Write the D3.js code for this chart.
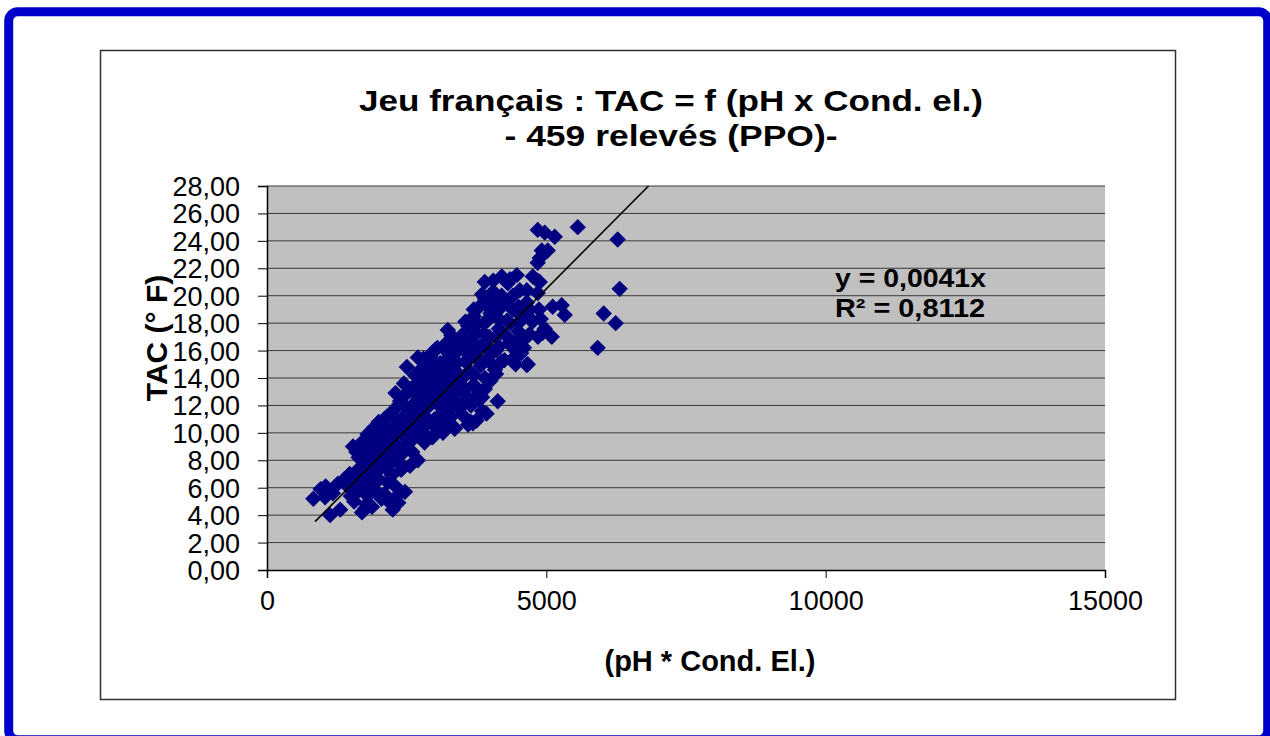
<!DOCTYPE html>
<html>
<head>
<meta charset="utf-8">
<script src="https://cdn.jsdelivr.net/npm/d3@7"></script>
<style>
  html, body { margin: 0; padding: 0; background: #fff; }
  svg { display: block; }
  text { font-family: "Liberation Sans", Arial, sans-serif; }
</style>
</head>
<body>
<svg id="chart" width="1270" height="736"></svg>
<script>
// ---- data ----
const titleLines = ["Jeu français : TAC = f (pH x Cond. el.)", "- 459 relevés (PPO)-"];
const xTicks = [0, 5000, 10000, 15000];
const yTicks = [0, 2, 4, 6, 8, 10, 12, 14, 16, 18, 20, 22, 24, 26, 28];
const trendSlope = 0.0041;
const trendRange = [860, 6829];
const legendLines = ["y = 0,0041x", "R² = 0,8112"];

const pointsLow = [
  [830,5.2],[960,5.9],[1050,6.1],[1130,4.0],[1180,5.6],[1040,5.3],[1310,4.4],[1380,6.6],
  [1420,6.2],[1480,7.0],[1500,5.4],[1560,5.0],[1580,6.6],[1620,5.7],[1650,7.4],[1700,4.2],
  [1720,6.1],[1760,7.6],[1780,4.8],[1800,5.4],[1820,6.8],[1850,7.4],[1880,4.6],[1900,6.2],
  [1950,5.8],[1980,7.2],[2000,6.6],[2050,5.2],[2100,5.5],[2120,7.5],[2160,6.4],[2180,5.0],
  [2230,6.9],[2250,4.4],[2300,6.1],[2330,5.4],[2400,7.3],[2470,5.7],[2350,4.9],[1600,6.0],
  [1700,6.5],[1850,5.9],[2050,7.8],[2200,7.7],[2560,7.6],[1270,6.3],[1760,4.5],[2110,5.5]
];
const pointsMid = [
  [1640,8.2],[1700,8.8],[1720,9.4],[1780,8.1],[1800,9.9],[1850,8.6],[1880,9.2],[1920,10.4],
  [1950,8.1],[1980,9.6],[2000,10.8],[2040,8.9],[2080,9.9],[2100,11.0],[2150,8.4],[2150,10.4],
  [2200,9.4],[2220,11.4],[2260,8.6],[2280,10.0],[2300,11.8],[2320,9.1],[2360,10.7],[2380,12.3],
  [2400,8.4],[2420,9.9],[2450,11.2],[2480,12.8],[2500,8.9],[2520,10.3],[2550,11.7],[2580,13.2],
  [2600,9.5],[2620,10.9],[2650,12.2],[2680,13.6],[2700,8.0],[2720,10.0],[2750,11.4],[2780,12.7],
  [2800,13.9],[2820,9.3],[2850,10.6],[2880,11.9],[2900,13.3],[2950,9.7],[2980,12.4],[3000,11.0],
  [3020,13.8],[3050,10.3],[3080,12.0],[3100,13.1],[3150,11.5],[3200,12.6],[3220,13.6],[3250,10.5],
  [3300,11.8],[3350,13.0],[3360,10.3],[3400,12.2],[3450,13.4],[3500,11.3],[3550,12.8],[3600,10.6],
  [3650,12.0],[3700,13.5],[3750,10.9],[3800,12.5],[3850,11.6],[3930,11.4],[3650,10.8],[4130,12.3],
  [3900,13.2],[4000,13.8],[2968,9.7],[3150,10.0],[2400,10.9],[2600,12.0],[3684,10.7],[3362,10.35],
  [1540,9.0],[1600,8.6],[2300,12.9],[2450,13.6],[3200,14.0],[3400,14.0]
];
const pointsHigh = [
  [2504,14.8],[2700,15.5],[2650,14.2],[2750,14.6],[2850,15.0],[2900,14.3],[2950,15.8],[3000,14.7],
  [3050,16.2],[3100,15.1],[3150,14.4],[3200,16.5],[3237,17.5],[3250,15.5],[3300,14.8],[3350,16.8],
  [3400,15.9],[3450,14.2],[3487,17.1],[3500,16.3],[3550,15.2],[3600,17.8],[3620,14.5],[3650,16.7],
  [3700,18.5],[3720,15.6],[3750,17.3],[3800,19.2],[3820,14.9],[3850,16.4],[3880,18.0],[3900,19.8],
  [3898,21.0],[3950,15.5],[3980,17.0],[4000,18.7],[4050,20.3],[4080,14.6],[4100,16.0],[4150,17.6],
  [4202,21.4],[4200,19.3],[4250,15.3],[4300,18.2],[4310,20.9],[4350,16.6],[4400,19.0],[4450,15.0],
  [4471,21.5],[4500,17.4],[4524,20.4],[4550,18.5],[4600,16.2],[4650,14.95],[4650,19.5],[4700,17.2],
  [4757,21.4],[4750,18.1],[4846,21.1],[4846,20.2],[4850,17.0],[4870,19.0],[4900,18.3],[4971,17.6],
  [4936,17.3],[5097,17.0],[5114,19.2],[5275,19.3],[5329,18.6],[4882,21.0],[4668,15.0]
];
const pointsDense = [
  [1750,8.4],[1900,8.0],[2050,8.2],[2200,8.1],[2350,7.9],
  [1800,9.0],[1950,9.1],[2100,8.9],[2250,9.2],[2450,9.0],[2600,8.6],
  [1900,10.0],[2050,10.2],[2200,10.0],[2350,10.1],[2500,9.8],[2650,10.2],[2800,10.0],
  [2150,11.2],[2300,11.0],[2500,11.0],[2700,11.1],[2900,10.9],[3100,11.0],[3300,11.2],[3450,11.8],
  [2450,12.0],[2750,12.1],[2900,12.0],[3000,12.3],[3250,12.0],[3500,12.1],[3700,12.4],[3850,12.6],
  [2600,13.0],[2750,13.0],[2950,12.8],[3150,13.0],[3300,12.7],[3550,13.2],[3800,13.0],
  [2750,14.0],[2900,14.1],[3050,13.9],[3300,14.1],[3500,14.0],[3700,14.2],[3900,14.0],[4100,14.3],
  [2800,15.4],[3000,15.2],[3200,15.0],[3400,15.1],[3600,15.3],[3800,15.3],[4000,15.1],[4200,15.2],[4400,15.4],
  [3000,16.0],[3200,16.0],[3350,16.2],[3550,16.0],[3750,16.1],[3950,16.2],[4150,16.3],[4400,16.2],[4550,15.8],
  [3300,17.1],[3500,17.0],[3700,17.0],[3900,17.2],[4100,17.0],[4300,17.0],[4500,16.8],[4650,17.0],
  [3550,18.1],[3750,18.0],[3950,18.2],[4150,18.3],[4350,18.0],[4500,18.0],[4700,18.4],
  [3700,19.0],[3950,19.2],[4150,19.0],[4300,19.4],[4500,19.2],[4700,19.0],
  [3850,20.1],[4050,19.8],[4200,20.0],[4400,20.0],[4650,20.4],
  [4050,21.1],[4350,21.2]
];
const pointsTop = [
  [4846,22.4],[4882,22.75],[4918,23.3],[5025,23.3],[4846,24.8],[4971,24.6],[5150,24.3]
];
const pointsOutliers = [
  [5562,25.0],[6277,24.1],[6313,20.5],[6027,18.7],[6241,18.0],[5919,16.2]
];

// ---- layout ----
const svg = d3.select("#chart");
const plot = {left: 267, right: 1105, top: 186, bottom: 570};
const x = d3.scaleLinear().domain([0, 15000]).range([plot.left, plot.right]);
const y = d3.scaleLinear().domain([0, 28]).range([plot.bottom, plot.top]);

// outer blue frame
svg.append("rect")
  .attr("x", 8.7).attr("y", 11.7).attr("width", 1259).attr("height", 728)
  .attr("rx", 9).attr("ry", 9)
  .attr("fill", "none").attr("stroke", "#0000CC").attr("stroke-width", 9);

// chart area border
svg.append("rect")
  .attr("x", 100.5).attr("y", 50.5).attr("width", 1075).attr("height", 649)
  .attr("fill", "#fff").attr("stroke", "#303030").attr("stroke-width", 1.5);

// plot background
svg.append("rect")
  .attr("x", plot.left).attr("y", plot.top)
  .attr("width", plot.right - plot.left).attr("height", plot.bottom - plot.top)
  .attr("fill", "#C0C0C0");

// gridlines
svg.append("g")
  .selectAll("line").data(yTicks.filter(d => d > 0)).join("line")
  .attr("x1", plot.left).attr("x2", plot.right)
  .attr("y1", d => y(d)).attr("y2", d => y(d))
  .attr("stroke", "#3a3a3a").attr("stroke-width", 1);

// axes
const yAxis = d3.axisLeft(y).tickValues(yTicks).tickSize(9)
  .tickFormat(d => d3.format(".2f")(d).replace(".", ","));
const gy = svg.append("g").attr("transform", `translate(${plot.left},0)`).call(yAxis);
gy.select(".domain").attr("stroke", "#000").attr("stroke-width", 1.5);
gy.selectAll(".tick line").attr("stroke", "#000");
gy.selectAll(".tick text")
  .attr("x", -27).attr("dy", "0.35em")
  .attr("font-size", 27).attr("fill", "#000")
  .style("font-family", "'Liberation Sans', Arial, sans-serif");

const xAxis = d3.axisBottom(x).tickValues(xTicks).tickSize(8).tickFormat(d3.format("d"));
const gx = svg.append("g").attr("transform", `translate(0,${plot.bottom})`).call(xAxis);
gx.select(".domain").attr("stroke", "#000").attr("stroke-width", 1.5);
gx.selectAll(".tick line").attr("stroke", "#000");
gx.selectAll(".tick text")
  .attr("y", 40).attr("dy", 0)
  .attr("font-size", 27).attr("fill", "#000")
  .style("font-family", "'Liberation Sans', Arial, sans-serif");

// points (diamonds)
const allPoints = [].concat(pointsLow, pointsMid, pointsDense, pointsHigh, pointsTop, pointsOutliers);
const r = 8.2;
const diamond = `M0,${-r}L${r},0L0,${r}L${-r},0Z`;
svg.append("g")
  .selectAll("path").data(allPoints).join("path")
  .attr("d", diamond)
  .attr("transform", d => `translate(${x(d[0])},${y(d[1])})`)
  .attr("fill", "#000080");

// trendline
svg.append("line")
  .attr("x1", x(trendRange[0])).attr("y1", y(trendSlope * trendRange[0]))
  .attr("x2", x(trendRange[1])).attr("y2", y(trendSlope * trendRange[1]))
  .attr("stroke", "#000").attr("stroke-width", 1.6);

// legend / equation
const legendWidths = [151, 150];
svg.append("g").selectAll("text").data(legendLines).join("text")
  .attr("x", 835).attr("y", (d, i) => 287 + i * 30)
  .attr("font-size", 25).attr("font-weight", "bold").attr("fill", "#000")
  .attr("textLength", (d, i) => legendWidths[i]).attr("lengthAdjust", "spacingAndGlyphs")
  .text(d => d);

// title
const titleWidths = [624, 333];
svg.append("g").selectAll("text").data(titleLines).join("text")
  .attr("x", 671).attr("y", (d, i) => 111 + i * 35)
  .attr("text-anchor", "middle")
  .attr("font-size", 30).attr("font-weight", "bold").attr("fill", "#000")
  .attr("textLength", (d, i) => titleWidths[i]).attr("lengthAdjust", "spacingAndGlyphs")
  .text(d => d);

// axis titles
svg.append("text")
  .attr("x", 710).attr("y", 671).attr("text-anchor", "middle")
  .attr("font-size", 29).attr("font-weight", "bold").attr("fill", "#000")
  .text("(pH * Cond. El.)");

svg.append("text")
  .attr("transform", "translate(167,338) rotate(-90)")
  .attr("text-anchor", "middle")
  .attr("font-size", 30).attr("font-weight", "bold").attr("fill", "#000")
  .text("TAC (° F)");
</script>
</body>
</html>
